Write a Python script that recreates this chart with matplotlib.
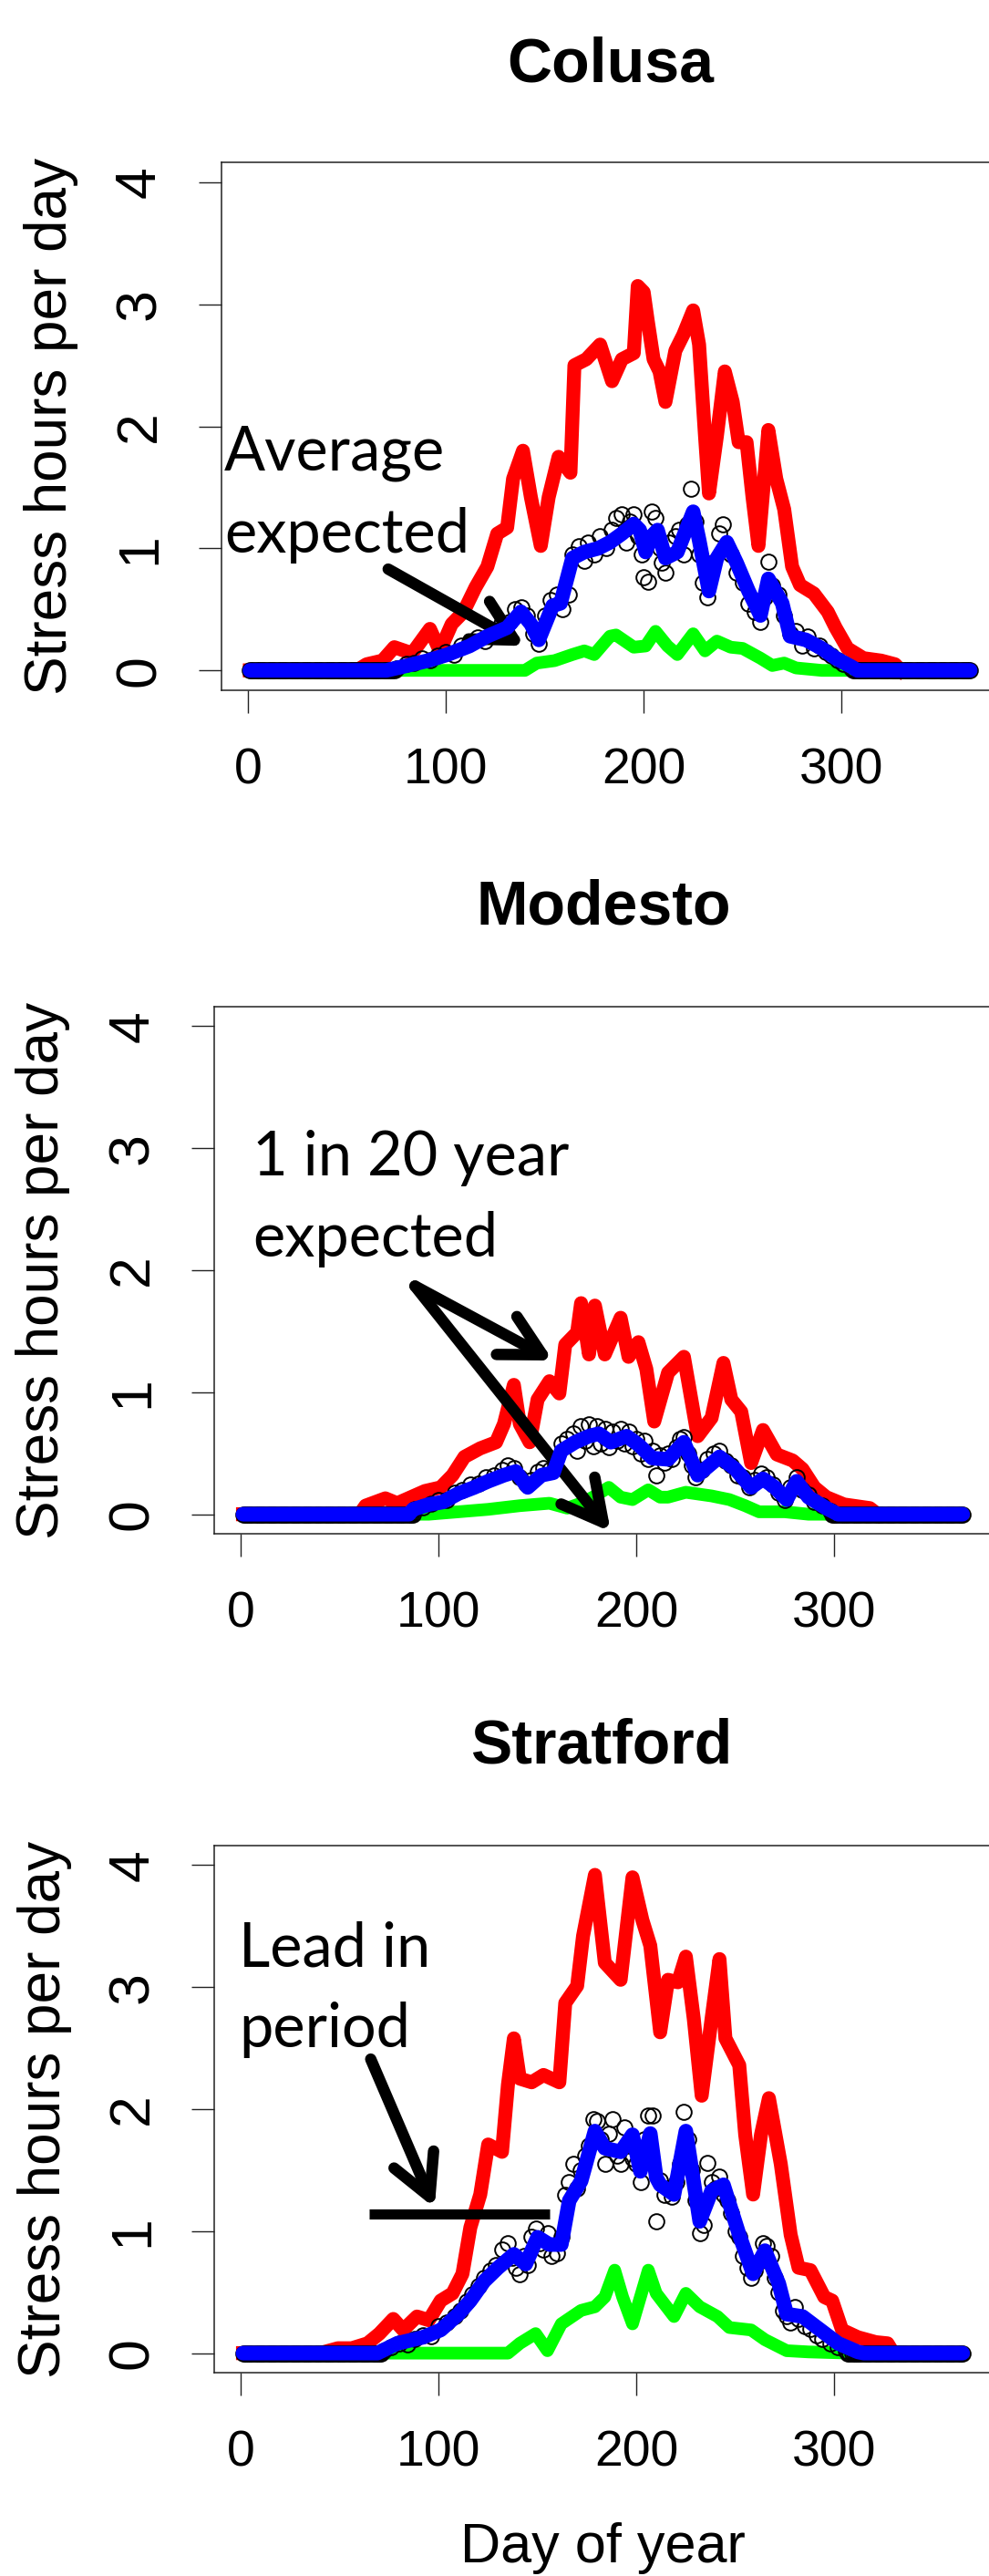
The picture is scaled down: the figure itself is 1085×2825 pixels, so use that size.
import matplotlib
matplotlib.use("Agg")
import matplotlib.pyplot as plt
import numpy as np

plt.rcParams['font.family'] = ['Liberation Sans', 'DejaVu Sans']

W, H = 1085, 2825

# ---------------- Colusa ----------------
colusa_red_day = [1, 55, 60, 68, 74, 83, 92, 97, 103, 109, 115, 121, 126, 131, 134, 139, 143, 148, 152, 157,
                  163, 165, 171, 178, 184, 189, 195, 197, 200, 202, 205, 208, 211, 216, 220, 225, 228, 231, 233,
                  237, 241, 245, 248, 252, 255, 258, 263, 267, 271, 275, 279, 286, 293, 297, 303, 311, 320, 327, 330]
colusa_red = [0, 0, 0.05, 0.08, 0.19, 0.14, 0.34, 0.16, 0.38, 0.48, 0.68, 0.85, 1.12, 1.17, 1.57, 1.80, 1.42, 1.02,
              1.42, 1.75, 1.62, 2.50, 2.55, 2.67, 2.37, 2.55, 2.60, 3.15, 3.10, 2.87, 2.55, 2.45, 2.20, 2.62, 2.75,
              2.95, 2.67, 1.92, 1.45, 1.92, 2.45, 2.20, 1.87, 1.87, 1.42, 1.02, 1.97, 1.57, 1.32, 0.85, 0.70, 0.63,
              0.48, 0.35, 0.18, 0.10, 0.08, 0.05, 0]

colusa_blue_day = [1, 70, 78, 91, 101, 112, 121, 131, 138, 143, 147, 154, 158, 164, 170, 177, 183, 189, 195, 198,
                   201, 204, 207, 211, 217, 225, 228, 233, 237, 242, 247, 253, 259, 263, 270, 274, 282, 290, 297,
                   305, 308, 365]
colusa_blue = [0, 0, 0.03, 0.08, 0.13, 0.20, 0.28, 0.35, 0.48, 0.38, 0.25, 0.53, 0.55, 0.92, 0.97, 1.00, 1.05, 1.12,
               1.20, 1.15, 0.97, 1.10, 1.15, 0.92, 0.97, 1.30, 1.07, 0.65, 0.92, 1.05, 0.88, 0.65, 0.45, 0.75, 0.55,
               0.28, 0.25, 0.18, 0.10, 0.03, 0, 0]

colusa_green_day = [70, 140, 146, 155, 164, 170, 175, 183, 186, 195, 201, 206, 212, 217, 225, 231, 237, 244, 250,
                    259, 265, 271, 277, 290, 305]
colusa_green = [0, 0, 0.06, 0.08, 0.13, 0.16, 0.13, 0.28, 0.29, 0.19, 0.20, 0.32, 0.20, 0.13, 0.30, 0.16, 0.24,
                0.19, 0.18, 0.10, 0.04, 0.06, 0.02, 0, 0]

colusa_pts_day = [75, 80, 84, 88, 92, 96, 100, 104, 108, 112, 116, 120, 124, 128, 132, 135, 138, 141, 144, 147,
                  150, 153, 156, 159, 162, 164, 167, 170, 172, 175, 178, 181, 184, 186, 189, 191, 193, 195, 197,
                  199, 200, 202, 204, 206, 208, 209, 211, 213, 216, 218, 220, 222, 224, 226, 228, 230, 232, 235,
                  238, 240, 242, 244, 247, 250, 253, 256, 259, 261, 263, 265, 268, 271, 274, 277, 280, 283, 286,
                  289, 292, 295, 298, 301, 305]
colusa_pts = [0.02, 0.05, 0.06, 0.10, 0.08, 0.12, 0.15, 0.13, 0.20, 0.23, 0.27, 0.24, 0.33, 0.38, 0.40, 0.50,
              0.52, 0.45, 0.30, 0.22, 0.45, 0.58, 0.62, 0.50, 0.62, 0.95, 1.02, 0.90, 1.05, 0.95, 1.10, 1.00,
              1.15, 1.25, 1.28, 1.05, 1.22, 1.28, 1.10, 0.95, 0.76, 0.73, 1.30, 1.25, 1.00, 0.88, 0.80, 1.05,
              1.10, 1.15, 0.95, 1.20, 1.49, 1.22, 0.95, 0.72, 0.60, 0.88, 1.12, 1.20, 1.00, 0.95, 0.80, 0.72,
              0.55, 0.48, 0.40, 0.60, 0.89, 0.70, 0.62, 0.45, 0.30, 0.32, 0.20, 0.28, 0.18, 0.20, 0.15, 0.12,
              0.08, 0.05, 0.02]

# ---------------- Modesto ----------------
modesto_red_day = [1, 60, 63, 73, 79, 86, 93, 101, 107, 113, 121, 129, 133, 138, 141, 146, 150, 156, 161, 164,
                   170, 172, 176, 179, 184, 192, 196, 201, 205, 209, 216, 224, 231, 238, 244, 248, 253, 258, 264,
                   271, 279, 284, 290, 296, 305, 318, 322]
modesto_red = [0, 0, 0.07, 0.13, 0.09, 0.14, 0.19, 0.22, 0.32, 0.47, 0.54, 0.59, 0.74, 1.06, 0.74, 0.59, 0.94,
               1.09, 0.99, 1.39, 1.49, 1.73, 1.31, 1.71, 1.31, 1.61, 1.29, 1.41, 1.19, 0.76, 1.16, 1.29, 0.64,
               0.79, 1.24, 0.94, 0.84, 0.42, 0.69, 0.49, 0.44, 0.37, 0.22, 0.14, 0.08, 0.05, 0]

modesto_blue_day = [1, 85, 87, 95, 102, 110, 118, 125, 133, 139, 145, 152, 158, 162, 169, 176, 181, 187, 195, 201,
                    208, 216, 224, 231, 242, 250, 258, 264, 270, 276, 281, 287, 296, 302, 365]
modesto_blue = [0, 0, 0.04, 0.08, 0.10, 0.17, 0.22, 0.27, 0.32, 0.35, 0.22, 0.32, 0.34, 0.52, 0.59, 0.64, 0.66,
                0.59, 0.64, 0.57, 0.46, 0.45, 0.59, 0.32, 0.47, 0.37, 0.22, 0.29, 0.22, 0.12, 0.27, 0.14, 0.05,
                0, 0]

modesto_green_day = [72, 95, 110, 125, 141, 156, 165, 172, 178, 186, 192, 198, 206, 212, 216, 225, 238, 247,
                     255, 262, 275, 287, 302]
modesto_green = [0, 0, 0.02, 0.04, 0.07, 0.09, 0.05, 0.09, 0.14, 0.22, 0.14, 0.12, 0.20, 0.14, 0.14, 0.18,
                 0.15, 0.12, 0.07, 0.02, 0.02, 0, 0]

modesto_pts_day = [88, 92, 96, 100, 104, 108, 112, 116, 120, 124, 128, 132, 135, 138, 141, 144, 147, 150, 153,
                   156, 159, 162, 165, 168, 170, 172, 174, 176, 178, 180, 182, 184, 186, 188, 190, 192, 194, 196,
                   198, 200, 202, 204, 206, 208, 210, 212, 214, 216, 218, 220, 222, 224, 226, 228, 230, 233, 236,
                   239, 242, 245, 248, 251, 254, 257, 260, 263, 266, 269, 272, 275, 278, 281, 284, 287, 290, 294,
                   298]
modesto_pts = [0.04, 0.06, 0.09, 0.12, 0.12, 0.18, 0.20, 0.24, 0.25, 0.30, 0.32, 0.36, 0.40, 0.38, 0.30, 0.25,
               0.28, 0.35, 0.38, 0.36, 0.40, 0.58, 0.62, 0.66, 0.52, 0.72, 0.60, 0.74, 0.56, 0.72, 0.58, 0.70,
               0.55, 0.68, 0.60, 0.70, 0.58, 0.68, 0.56, 0.62, 0.50, 0.60, 0.45, 0.52, 0.32, 0.48, 0.42, 0.50,
               0.45, 0.55, 0.62, 0.63, 0.50, 0.40, 0.30, 0.36, 0.45, 0.50, 0.52, 0.44, 0.40, 0.32, 0.30, 0.22,
               0.28, 0.33, 0.30, 0.24, 0.18, 0.12, 0.22, 0.30, 0.20, 0.16, 0.10, 0.07, 0.03]

# ---------------- Stratford ----------------
stratford_red_day = [1, 40, 49, 56, 64, 70, 77, 82, 89, 95, 101, 107, 112, 116, 121, 125, 132, 135, 138, 141, 147,
                     153, 161, 164, 170, 173, 179, 184, 192, 198, 203, 207, 212, 216, 221, 225, 229, 233, 238, 242,
                     245, 252, 255, 259, 263, 267, 273, 278, 282, 288, 295, 299, 304, 312, 321, 327, 330]
stratford_red = [0, 0, 0.04, 0.04, 0.08, 0.16, 0.28, 0.19, 0.30, 0.27, 0.43, 0.49, 0.65, 1.03, 1.30, 1.71, 1.65,
                 2.20, 2.58, 2.25, 2.22, 2.28, 2.22, 2.87, 3.01, 3.42, 3.92, 3.20, 3.06, 3.90, 3.55, 3.34, 2.63,
                 3.06, 3.04, 3.25, 2.74, 2.11, 2.74, 3.23, 2.58, 2.36, 1.79, 1.30, 1.79, 2.09, 1.55, 0.97, 0.70,
                 0.68, 0.46, 0.43, 0.19, 0.13, 0.09, 0.08, 0]

stratford_blue_day = [1, 69, 79, 92, 101, 110, 116, 123, 130, 138, 144, 150, 156, 162, 166, 172, 179, 184, 192,
                      198, 202, 207, 210, 212, 219, 225, 232, 238, 244, 252, 259, 265, 272, 276, 284, 293, 302,
                      312, 315, 365]
stratford_blue = [0, 0, 0.08, 0.13, 0.19, 0.32, 0.43, 0.59, 0.70, 0.81, 0.73, 0.95, 0.89, 0.89, 1.25, 1.41, 1.82,
                  1.68, 1.65, 1.79, 1.49, 1.80, 1.44, 1.38, 1.30, 1.82, 1.08, 1.33, 1.38, 0.97, 0.65, 0.84, 0.57,
                  0.32, 0.30, 0.19, 0.08, 0.01, 0, 0]

stratford_green_day = [69, 135, 141, 149, 155, 162, 172, 179, 184, 189, 193, 198, 202, 206, 210, 219, 225, 232,
                       241, 247, 258, 265, 276, 287, 308]
stratford_green = [0, 0, 0.08, 0.16, 0.02, 0.24, 0.35, 0.38, 0.46, 0.68, 0.46, 0.24, 0.46, 0.68, 0.49, 0.30,
                   0.49, 0.38, 0.30, 0.21, 0.19, 0.11, 0.02, 0.01, 0]

stratford_pts_day = [72, 76, 80, 84, 88, 92, 96, 100, 104, 108, 111, 114, 117, 120, 123, 126, 129, 132, 135, 137,
                     139, 141, 143, 145, 147, 149, 151, 153, 155, 157, 160, 162, 164, 166, 168, 170, 172, 174,
                     176, 178, 180, 182, 184, 186, 188, 190, 192, 194, 196, 198, 200, 202, 204, 206, 208, 210,
                     212, 214, 216, 218, 220, 222, 224, 226, 228, 230, 232, 234, 236, 238, 240, 242, 244, 246,
                     248, 250, 252, 254, 256, 258, 260, 262, 264, 266, 268, 270, 272, 274, 276, 278, 280, 282,
                     285, 288, 291, 294, 298, 302, 306]
stratford_pts = [0.02, 0.05, 0.08, 0.07, 0.12, 0.15, 0.14, 0.22, 0.25, 0.30, 0.35, 0.42, 0.48, 0.55, 0.62, 0.68,
                 0.72, 0.85, 0.90, 0.78, 0.70, 0.65, 0.80, 0.72, 0.95, 1.02, 0.90, 0.85, 0.98, 0.80, 0.82, 0.95,
                 1.30, 1.40, 1.55, 1.35, 1.50, 1.62, 1.70, 1.92, 1.90, 1.75, 1.55, 1.80, 1.92, 1.62, 1.55, 1.85,
                 1.70, 1.60, 1.55, 1.40, 1.75, 1.95, 1.95, 1.08, 1.42, 1.30, 1.35, 1.28, 1.40, 1.55, 1.98, 1.75,
                 1.50, 1.25, 0.98, 1.05, 1.56, 1.40, 1.35, 1.45, 1.30, 1.25, 1.15, 1.00, 0.95, 0.80, 0.70, 0.62,
                 0.68, 0.75, 0.90, 0.88, 0.80, 0.62, 0.50, 0.35, 0.30, 0.25, 0.38, 0.28, 0.22, 0.20, 0.15, 0.12,
                 0.08, 0.05, 0.02]

x_ticks = [0, 100, 200, 300]
y_ticks = [0, 1, 2, 3, 4]


def season_zero_days(first, last):
    # days with no stress at all (circles sit on the zero line)
    return [d for d in range(1, 366) if d < first or d > last]


def add_panel(fig, box, red, blue, green, pts):
    left, top, width, height = box
    ax = fig.add_axes([left / W, 1 - (top + height) / H, width / W, height / H])

    ax.plot(red[0], red[1], color='#ff0000', lw=11, solid_joinstyle='round', zorder=2)
    ax.plot(green[0], green[1], color='#00ff00', lw=10, solid_joinstyle='round', zorder=3)
    zd = season_zero_days(pts[0][0], pts[0][-1])
    ax.plot(list(pts[0]) + zd, list(pts[1]) + [0] * len(zd), 'o', ms=12, mfc='none', mec='black',
            mew=1.4, zorder=4)
    ax.plot(blue[0], blue[1], color='#0000ff', lw=11.5, solid_joinstyle='round', solid_capstyle='round',
            zorder=5)

    ax.set_xlim(-13.56, 379.56)
    ax.set_ylim(-0.16, 4.16)
    ax.set_xticks(x_ticks)
    ax.set_yticks(y_ticks)
    ax.set_xticklabels([str(t) for t in x_ticks], fontsize=40)
    ax.set_yticklabels([str(t) for t in y_ticks], fontsize=45)
    for t in ax.get_yticklabels():
        t.set_rotation(90)
        t.set_va('center')
    ax.tick_params(axis='both', length=18, width=1.0, color='#222222')
    ax.tick_params(axis='x', pad=27)
    ax.tick_params(axis='y', pad=25)
    for sp in ax.spines.values():
        sp.set_linewidth(1.1)
        sp.set_color('#222222')
    return ax


def arrow(ax, tail, tip):
    ax.annotate('', xy=tip, xytext=tail, annotation_clip=False,
                arrowprops=dict(arrowstyle='->,head_length=1.6,head_width=0.85', lw=9, color='black',
                                shrinkA=0, shrinkB=0, mutation_scale=20))


def note(fig, x, y, s):
    fig.text(x / W, 1 - y / H, s, ha='left', va='baseline', fontsize=48, family='Lato')


def main():
    fig = plt.figure(figsize=(W / 100, H / 100), dpi=100)

    # Colusa
    ax1 = add_panel(fig, (242.5, 178.5, 853.5, 578.1),
                    (colusa_red_day, colusa_red), (colusa_blue_day, colusa_blue),
                    (colusa_green_day, colusa_green), (colusa_pts_day, colusa_pts))
    fig.text(670 / W, 1 - 89 / H, 'Colusa', ha='center', va='baseline', fontsize=49, fontweight='bold')
    fig.text(72.7 / W, 1 - 467.5 / H, 'Stress hours per day', rotation=90, rotation_mode='anchor',
             ha='center', va='baseline', fontsize=46)
    note(fig, 246, 515, 'Average')
    note(fig, 246, 606, 'expected')
    arrow(ax1, (70.9, 0.83), (140.0, 0.20))

    # Modesto
    ax2 = add_panel(fig, (235.0, 1104, 852.7, 578),
                    (modesto_red_day, modesto_red), (modesto_blue_day, modesto_blue),
                    (modesto_green_day, modesto_green), (modesto_pts_day, modesto_pts))
    fig.text(662 / W, 1 - 1013 / H, 'Modesto', ha='center', va='baseline', fontsize=49, fontweight='bold')
    fig.text(64 / W, 1 - 1393 / H, 'Stress hours per day', rotation=90, rotation_mode='anchor',
             ha='center', va='baseline', fontsize=46)
    note(fig, 277, 1289, '1 in 20 year')
    note(fig, 277, 1378, 'expected')
    arrow(ax2, (88.0, 1.87), (157.8, 1.26))
    arrow(ax2, (88.0, 1.87), (187.0, -0.144))

    # Stratford
    ax3 = add_panel(fig, (235.0, 2024, 852.7, 578),
                    (stratford_red_day, stratford_red), (stratford_blue_day, stratford_blue),
                    (stratford_green_day, stratford_green), (stratford_pts_day, stratford_pts))
    fig.text(660 / W, 1 - 1933 / H, 'Stratford', ha='center', va='baseline', fontsize=49, fontweight='bold')
    fig.text(65.7 / W, 1 - 2313 / H, 'Stress hours per day', rotation=90, rotation_mode='anchor',
             ha='center', va='baseline', fontsize=46)
    note(fig, 262, 2156.6, 'Lead in')
    note(fig, 262, 2245, 'period')
    arrow(ax3, (65.6, 2.41), (97.9, 1.19))
    ax3.plot([64.8, 156.3], [1.14, 1.14], color='black', lw=8, solid_capstyle='butt', zorder=6)

    # the reference crops the descenders of this label; keep it just inside the figure
    fig.text(661 / W, 1 - 2810 / H, 'Day of year', ha='center', va='baseline', fontsize=44)

    fig.savefig('out.png', dpi=100)


if __name__ == "__main__":
    main()
